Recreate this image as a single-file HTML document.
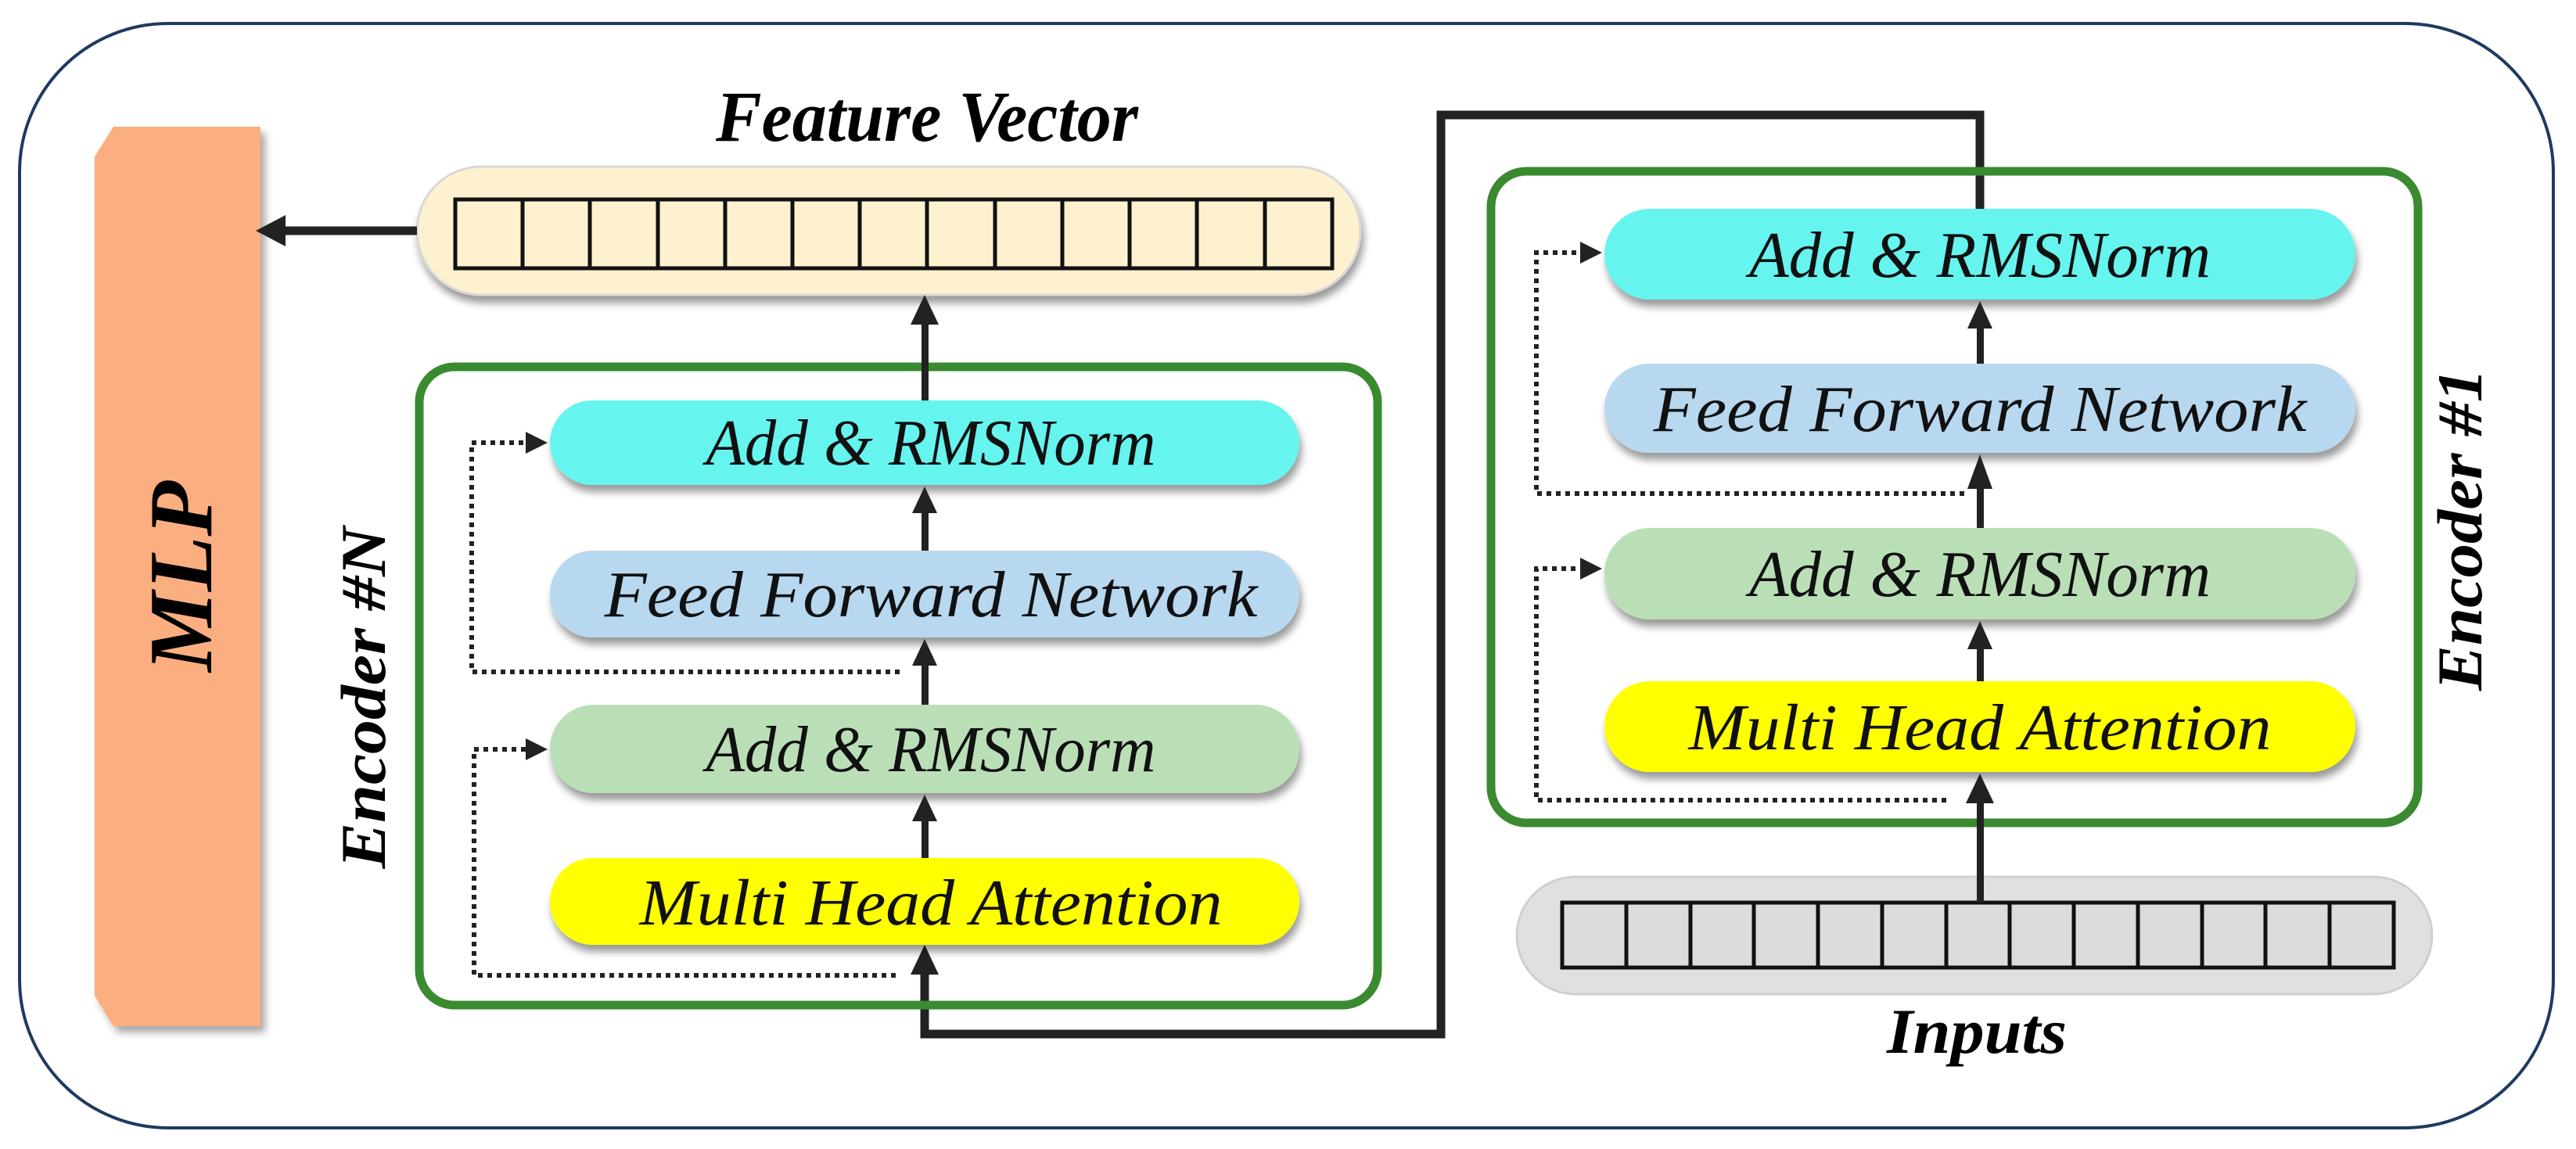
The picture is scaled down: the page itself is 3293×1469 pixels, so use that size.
<!DOCTYPE html>
<html><head><meta charset="utf-8"><style>html,body{margin:0;padding:0;background:#fff}svg{display:block}</style></head>
<body>
<svg width="3293" height="1469" viewBox="0 0 3293 1469" xmlns="http://www.w3.org/2000/svg" font-family="'Liberation Serif', serif">
<defs>
<filter id="sh" x="-10%" y="-20%" width="120%" height="160%"><feDropShadow dx="3" dy="9" stdDeviation="5" flood-color="#000" flood-opacity="0.4"/></filter>
<filter id="sh2" x="-10%" y="-10%" width="130%" height="130%"><feDropShadow dx="6" dy="8" stdDeviation="5" flood-color="#000" flood-opacity="0.35"/></filter>
</defs>
<rect x="25" y="30" width="3239" height="1412" rx="190" fill="#fff" stroke="#1f3a60" stroke-width="4"/>

<!-- MLP -->
<path d="M145,162 L333,162 L333,1312 L145,1312 L121,1273 L121,200 Z" fill="#fbae80" filter="url(#sh2)"/>
<text transform="translate(270,737) rotate(-90)" text-anchor="middle" font-size="116" font-weight="bold" font-style="italic" textLength="244" lengthAdjust="spacingAndGlyphs">MLP</text>

<!-- Feature vector -->
<text x="1185" y="180" text-anchor="middle" font-size="92" font-weight="bold" font-style="italic" textLength="540" lengthAdjust="spacingAndGlyphs">Feature Vector</text>
<rect x="533" y="213" width="1206" height="164" rx="82" fill="#fdf1cf" stroke="#d8d8d8" stroke-width="3" filter="url(#sh)"/>
<g fill="none" stroke="#111" stroke-width="5">
<rect x="582" y="255" width="1121" height="88"/>
<path d="M668,255v88M754,255v88M841,255v88M927,255v88M1013,255v88M1099,255v88M1185,255v88M1272,255v88M1358,255v88M1444,255v88M1530,255v88M1617,255v88"/>
</g>
<line x1="533" y1="295" x2="360" y2="295" stroke="#222" stroke-width="11"/>
<polygon points="327,295 365,275 365,315" fill="#222"/>

<!-- Main connector -->
<path d="M2531,267 V147 H1842 V1322 H1182 V1240" fill="none" stroke="#222" stroke-width="11"/>
<polygon points="1182,1208 1164,1246 1200,1246" fill="#222"/>

<!-- Encoder N -->
<rect x="536" y="469" width="1225" height="816" rx="45" fill="none" stroke="#3a8a30" stroke-width="11"/>
<text transform="translate(492,892) rotate(-90)" text-anchor="middle" font-size="82" font-weight="bold" font-style="italic" textLength="437" lengthAdjust="spacingAndGlyphs">Encoder #N</text>

<g filter="url(#sh)">
<rect x="703" y="512" width="958" height="108" rx="54" fill="#66f4ef"/>
<rect x="703" y="704" width="958" height="111" rx="55" fill="#b7d8ef"/>
<rect x="703" y="901" width="958" height="113" rx="56" fill="#badfb7"/>
<rect x="703" y="1097" width="958" height="111" rx="55" fill="#ffff00"/>
</g>
<g font-size="84" font-style="italic" text-anchor="middle" fill="#111">
<text x="1190" y="594" textLength="575" lengthAdjust="spacingAndGlyphs">Add &amp; RMSNorm</text>
<text x="1190" y="788" textLength="835" lengthAdjust="spacingAndGlyphs">Feed Forward Network</text>
<text x="1190" y="986" textLength="575" lengthAdjust="spacingAndGlyphs">Add &amp; RMSNorm</text>
<text x="1190" y="1182" textLength="745" lengthAdjust="spacingAndGlyphs">Multi Head Attention</text>
</g>
<!-- arrows N -->
<g fill="#222">
<rect x="1178" y="410" width="9" height="102"/><polygon points="1182,377 1164,415 1200,415"/>
<rect x="1178" y="650" width="9" height="54"/><polygon points="1182,622 1166,656 1198,656"/>
<rect x="1178" y="845" width="9" height="56"/><polygon points="1182,817 1166,851 1198,851"/>
<rect x="1178" y="1045" width="9" height="52"/><polygon points="1182,1016 1166,1050 1198,1050"/>
<polygon points="700,566 672,552 672,580"/>
<polygon points="700,958 672,944 672,972"/>
</g>
<g fill="none" stroke="#222" stroke-width="6" stroke-dasharray="6 6">
<path d="M1150,859 H603 V566 H672"/>
<path d="M1145,1247 H606 V958 H672"/>
</g>

<!-- Encoder 1 -->
<rect x="1906" y="219" width="1185" height="833" rx="45" fill="none" stroke="#3a8a30" stroke-width="11"/>
<text transform="translate(3172,677) rotate(-90)" text-anchor="middle" font-size="82" font-weight="bold" font-style="italic" textLength="412" lengthAdjust="spacingAndGlyphs">Encoder #1</text>
<g filter="url(#sh)">
<rect x="2051" y="267" width="960" height="116" rx="58" fill="#66f4ef"/>
<rect x="2051" y="465" width="960" height="114" rx="57" fill="#b7d8ef"/>
<rect x="2051" y="675" width="960" height="117" rx="58" fill="#badfb7"/>
<rect x="2051" y="871" width="960" height="116" rx="58" fill="#ffff00"/>
</g>
<g font-size="84" font-style="italic" text-anchor="middle" fill="#111">
<text x="2531" y="354" textLength="590" lengthAdjust="spacingAndGlyphs">Add &amp; RMSNorm</text>
<text x="2531" y="551" textLength="835" lengthAdjust="spacingAndGlyphs">Feed Forward Network</text>
<text x="2531" y="762" textLength="590" lengthAdjust="spacingAndGlyphs">Add &amp; RMSNorm</text>
<text x="2531" y="958" textLength="745" lengthAdjust="spacingAndGlyphs">Multi Head Attention</text>
</g>
<g fill="#222">
<rect x="2527" y="415" width="9" height="50"/><polygon points="2531,385 2515,420 2547,420"/>
<rect x="2527" y="620" width="9" height="55"/><polygon points="2531,581 2515,625 2547,625"/>
<rect x="2527" y="825" width="9" height="46"/><polygon points="2531,794 2515,830 2547,830"/>
<rect x="2527" y="1020" width="9" height="134"/><polygon points="2531,989 2513,1027 2549,1027"/>
<polygon points="2048,323 2020,309 2020,337"/>
<polygon points="2048,727 2020,713 2020,741"/>
</g>
<g fill="none" stroke="#222" stroke-width="6" stroke-dasharray="6 6">
<path d="M2511,631 H1964 V323 H2020"/>
<path d="M2488,1023 H1964 V727 H2020"/>
</g>

<!-- Inputs -->
<rect x="1939" y="1121" width="1170" height="150" rx="75" fill="#e0e0e0" stroke="#d0d0d0" stroke-width="3"/>
<g fill="none" stroke="#111" stroke-width="5">
<rect x="1997" y="1154" width="1063" height="83" fill="#dcdcdc"/>
<path d="M2079,1154v83M2161,1154v83M2242,1154v83M2324,1154v83M2406,1154v83M2488,1154v83M2569,1154v83M2651,1154v83M2733,1154v83M2815,1154v83M2896,1154v83M2978,1154v83"/>
</g>
<rect x="2527" y="1100" width="9" height="54" fill="#222"/>
<text x="2527" y="1346" text-anchor="middle" font-size="82" font-weight="bold" font-style="italic" textLength="230" lengthAdjust="spacingAndGlyphs">Inputs</text>
</svg>
</body></html>
